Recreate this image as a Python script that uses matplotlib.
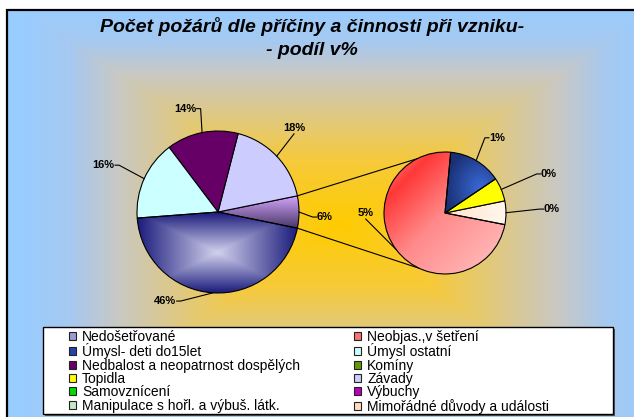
import numpy as np
import matplotlib.pyplot as plt
from matplotlib.patches import Rectangle, Patch
from matplotlib.colors import to_rgb

plt.rcParams['font.family'] = ['Liberation Sans', 'DejaVu Sans']

W, H = 634, 417

# hlavni kolac - proti smeru hodin, zacina vysecí "ostatni" (= druhy kolac)
main_names = ['Závady', 'Nedbalost a neopatrnost dospělých', 'Úmysl ostatní', 'Nedošetřované']
main_vals = [17.8, 14.3, 15.9, 45.6]

# druhy kolac - rozpad 6% vysece
sec_names = ['Mimořádné důvody a události', 'Topidla', 'Úmysl- deti do15let', 'Neobjas.,v šetření']
sec_vals = [0.4, 0.4, 0.9, 4.7]

# legenda po radcich (2 sloupce)
legend_names = ['Nedošetřované', 'Neobjas.,v šetření',
                'Úmysl- deti do15let', 'Úmysl ostatní',
                'Nedbalost a neopatrnost dospělých', 'Komíny',
                'Topidla', 'Závady',
                'Samovznícení', 'Výbuchy',
                'Manipulace s hořl. a výbuš. látk.', 'Mimořádné důvody a události']
legend_colors = ['#9c9cd0', '#ff7373',
                 '#2244a8', '#ccffff',
                 '#660066', '#669900',
                 '#ffff00', '#ccccff',
                 '#00dd00', '#bb00bb',
                 '#c4e8c4', '#ffdcc0']

title = 'Počet požárů dle příčiny a činnosti při vzniku-\n- podíl v%'


def ramp(t, stops):
    t = np.clip(t, 0, 1)
    pos = [s[0] for s in stops]
    cols = np.array([to_rgb(s[1]) for s in stops])
    return np.dstack([np.interp(t, pos, cols[:, i]) for i in range(3)])


def grad_fill(ax, wedge, fn):
    bb = wedge.get_path().get_extents()
    nx, ny = int(bb.width) + 2, int(bb.height) + 2
    u, v = np.meshgrid(np.linspace(0, 1, nx), np.linspace(0, 1, ny))
    im = ax.imshow(fn(u, v), extent=(bb.x0, bb.x1, bb.y0, bb.y1), origin='lower',
                   interpolation='bilinear', zorder=wedge.get_zorder() - 0.05)
    im.set_clip_path(wedge)
    wedge.set_facecolor('none')


def label_with_leader(ax, wedge, center, r, ang, k, side, txt):
    cx, cy = center
    a = np.radians(ang)
    px, py = cx + k * r * np.cos(a), cy + k * r * np.sin(a)
    ax.text(px, py, txt, ha='center', va='center', fontsize=8, fontweight='bold', zorder=6)
    m = np.radians((wedge.theta1 + wedge.theta2) / 2)
    ex, ey = cx + r * np.cos(m), cy + r * np.sin(m)
    hw, hh = 3.6 * len(txt) + 1, 6
    if side == 'h':
        sx = px + np.sign(ex - px) * hw
        xs, ys = [sx, sx + np.sign(ex - px) * 4, ex], [py, py, ey]
    else:
        sy = py + np.sign(ey - py) * hh
        xs, ys = [px, ex], [sy, ey]
    ax.plot(xs, ys, color='black', lw=0.8, zorder=5)


fig = plt.figure(figsize=(W / 100, H / 100), dpi=100)
ax = fig.add_axes([0, 0, 1, 1])

# pozadi - gradient od stredu (zluta) k okrajum (modra)
fx0, fx1, fy0, fy1 = 7, 655, H - 440, H - 10
gx, gy = np.meshgrid(np.arange(fx0, fx1), np.arange(fy0, fy1))
t = np.maximum(np.abs(gx - 338) / 315, np.abs(gy - (H - 225)) / 215)
bg = ramp(t, [(0, '#ffcc00'), (0.3, '#f6ca3c'), (0.7, '#c9c8c4'),
              (0.85, '#a6c9f0'), (1, '#99ccff')])
ax.imshow(bg, extent=(fx0, fx1, fy0, fy1), origin='lower', zorder=0)
ax.add_patch(Rectangle((fx0, fy0), fx1 - fx0, fy1 - fy0, fill=False,
                       edgecolor='black', lw=1.6, zorder=1))

ax.text(312, H - 38, title, ha='center', va='center', fontsize=14,
        fontweight='bold', fontstyle='italic', linespacing=1.45, zorder=6)

# hlavni kolac
c1, r1 = (218, H - 212), 81
other = sum(sec_vals)
vals1 = [other] + main_vals
start1 = -other / sum(vals1) * 360 / 2
w1, _ = ax.pie(vals1, center=c1, radius=r1, startangle=start1, counterclock=True,
               colors=['#9966cc', '#ccccff', '#660066', '#ccffff', '#5555aa'],
               wedgeprops=dict(edgecolor='black', linewidth=0.8), frame=True)
for w in w1:
    w.set_zorder(3)
grad_fill(ax, w1[0], lambda u, v: ramp(v, [(0, '#4a3868'), (1, '#d6a6ff')]))
grad_fill(ax, w1[4], lambda u, v: ramp(np.maximum(np.abs(2 * u - 1), np.abs(2 * v - 1)),
                                       [(0, '#d2d2ee'), (1, '#1c1c7c')]))

# druhy kolac
c2, r2 = (445, H - 213), 61
w2, _ = ax.pie(sec_vals, center=c2, radius=r2, startangle=-11, counterclock=True,
               colors=['#ffead8', '#ffff00', '#1f3a88', '#ff8080'],
               wedgeprops=dict(edgecolor='black', linewidth=0.8), frame=True)
for w in w2:
    w.set_zorder(3)
grad_fill(ax, w2[0], lambda u, v: ramp(u, [(0, '#ffe4cc'), (1, '#fff6ee')]))
grad_fill(ax, w2[2], lambda u, v: ramp(np.hypot(u - 0.7, v - 0.4) / 0.7,
                                       [(0, '#3a6ad8'), (1, '#1a3074')]))
grad_fill(ax, w2[3], lambda u, v: ramp((u + 1 - v) / 2,
                                       [(0, '#ff9494'), (0.2, '#ff3838'),
                                        (0.5, '#ff8a8a'), (1, '#ffc4c4')]))

# spojovaci cary
for th, ang2 in [(w1[0].theta2, 117), (w1[0].theta1, -115)]:
    a1, a2 = np.radians(th), np.radians(ang2)
    ax.plot([c1[0] + r1 * np.cos(a1), c2[0] + r2 * np.cos(a2)],
            [c1[1] + r1 * np.sin(a1), c2[1] + r2 * np.sin(a2)],
            color='black', lw=0.8, zorder=2)

# popisky (uhel, vzdalenost v nasobcich polomeru, napojeni)
lab1 = [(-2.7, 1.32, 'h'), (47.9, 1.40, 'v'), (107.8, 1.34, 'h'),
        (157.8, 1.53, 'h'), (-120.8, 1.28, 'h')]
lab2 = [(2.1, 1.75, 'h'), (20.6, 1.82, 'h'), (55.3, 1.5, 'h'), (180, 1.30, 'v')]
for w, v, (a, k, s) in zip(w1, vals1, lab1):
    label_with_leader(ax, w, c1, r1, a, k, s, f'{v:.0f}%')
for w, v, (a, k, s) in zip(w2, sec_vals, lab2):
    label_with_leader(ax, w, c2, r2, a, k, s, f'{v:.0f}%')

# legenda
lx0, ly0, lx1, ly1 = 43, H - 414, 613, H - 327
ax.add_patch(Rectangle((lx0 + 2, ly0 - 2), lx1 - lx0, ly1 - ly0, facecolor='#555555',
                       edgecolor='none', zorder=6))
ax.add_patch(Rectangle((lx0, ly0), lx1 - lx0, ly1 - ly0, facecolor='white',
                       edgecolor='black', lw=1, zorder=7))
for col, x in [(0, 69), (1, 354)]:
    handles = [Patch(facecolor=c, edgecolor='#222222', lw=0.8, label=n)
               for n, c in zip(legend_names[col::2], legend_colors[col::2])]
    leg = ax.legend(handles=handles, loc='upper left', bbox_to_anchor=(x / W, (H - 330) / H),
                    frameon=False, fontsize=10, borderpad=0, borderaxespad=0,
                    handlelength=0.5, handleheight=0.5, handletextpad=0.45,
                    labelspacing=-0.05)
    leg.set_zorder(8)
    ax.add_artist(leg)
ax.legend_ = None

ax.set_xlim(0, W)
ax.set_ylim(0, H)
ax.set_aspect('auto')
ax.axis('off')

fig.savefig('out.png', dpi=100)
